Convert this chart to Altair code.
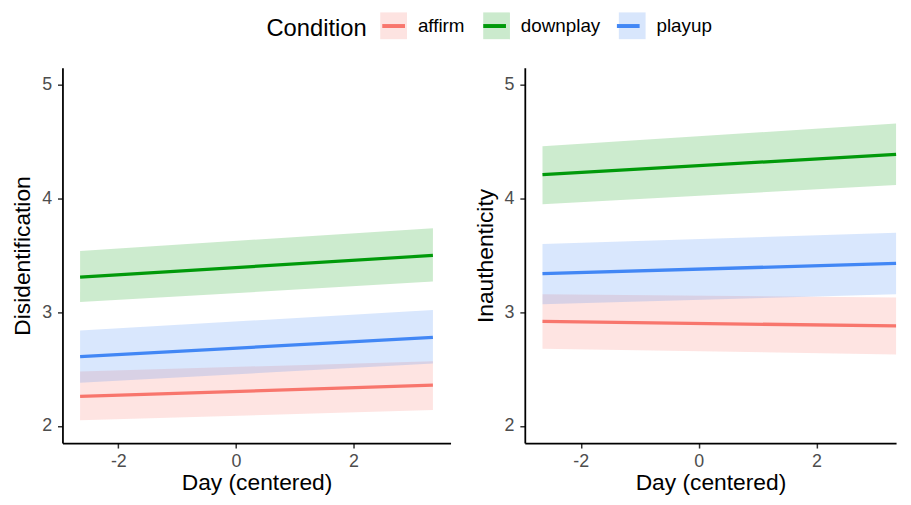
import altair as alt
import pandas as pd

# ---- data ----
days = [-2.65, 3.35]
conditions = ["affirm", "downplay", "playup"]

# Disidentification panel (fit, lower, upper at day start / end)
dis_affirm_fit = [2.26, 2.36]
dis_affirm_lo = [2.05, 2.14]
dis_affirm_hi = [2.48, 2.57]
dis_downplay_fit = [3.31, 3.50]
dis_downplay_lo = [3.09, 3.27]
dis_downplay_hi = [3.54, 3.74]
dis_playup_fit = [2.61, 2.78]
dis_playup_lo = [2.38, 2.55]
dis_playup_hi = [2.84, 3.02]

# Inauthenticity panel
ina_affirm_fit = [2.92, 2.88]
ina_affirm_lo = [2.68, 2.63]
ina_affirm_hi = [3.16, 3.13]
ina_downplay_fit = [4.21, 4.39]
ina_downplay_lo = [3.95, 4.12]
ina_downplay_hi = [4.46, 4.66]
ina_playup_fit = [3.34, 3.43]
ina_playup_lo = [3.07, 3.16]
ina_playup_hi = [3.60, 3.70]

y_ticks = [2, 3, 4, 5]
x_ticks = [-2, 0, 2]
line_colors = ["#F8766D", "#009A0A", "#4287F5"]

FONT = "Liberation Sans"


def build(series):
    rows = []
    for cond, (fit, lo, hi) in zip(conditions, series):
        for d, f, l, h in zip(days, fit, lo, hi):
            rows.append({"Condition": cond, "cond": cond, "day": d, "fit": f, "lo": l, "hi": h})
    return pd.DataFrame(rows)


dis_df = build([
    (dis_affirm_fit, dis_affirm_lo, dis_affirm_hi),
    (dis_downplay_fit, dis_downplay_lo, dis_downplay_hi),
    (dis_playup_fit, dis_playup_lo, dis_playup_hi),
])
ina_df = build([
    (ina_affirm_fit, ina_affirm_lo, ina_affirm_hi),
    (ina_downplay_fit, ina_downplay_lo, ina_downplay_hi),
    (ina_playup_fit, ina_playup_lo, ina_playup_hi),
])

LEG_X = 206
LEG_Y = -58

common_legend = dict(
    title="Condition", orient="none", direction="horizontal",
    legendX=LEG_X, legendY=LEG_Y,
    titleOrient="left", titleAnchor="middle", titleBaseline="middle",
    titleFontSize=24, titleFont=FONT, titleFontWeight="normal",
    titlePadding=11,
    labelFontSize=19, labelFont=FONT,
    symbolSize=729, symbolStrokeWidth=4,
    labelOffset=9, columnPadding=10,
)
fill_legend = alt.Legend(
    titleColor="black", labelColor="black",
    symbolType="square", symbolOpacity=0.2, symbolStrokeColor="transparent",
    **common_legend,
)
stroke_legend = alt.Legend(
    titleColor="transparent", labelColor="transparent",
    symbolType="M-0.85,0H0.85", symbolFillColor="transparent",
    **common_legend,
)


def panel(df, ytitle, xmax, width):
    x = alt.X("day:Q", title="Day (centered)",
              scale=alt.Scale(domain=[-2.95, xmax], nice=False, zero=False),
              axis=alt.Axis(values=x_ticks, labelExpr="replace(datum.label, '\u2212', '-')"))
    y_scale = alt.Scale(domain=[1.85, 5.15], nice=False, zero=False)
    y_axis = alt.Axis(values=y_ticks)
    band = alt.Chart(df).mark_area(opacity=0.2).encode(
        x=x,
        y=alt.Y("lo:Q", title=ytitle, scale=y_scale, axis=y_axis),
        y2="hi:Q",
        fill=alt.Fill("Condition:N", scale=alt.Scale(range=line_colors), legend=fill_legend),
    )
    line = alt.Chart(df).mark_line(strokeWidth=3.3).encode(
        x=x,
        y=alt.Y("fit:Q", title=ytitle, scale=y_scale, axis=y_axis),
        stroke=alt.Stroke("cond:N", scale=alt.Scale(range=line_colors), legend=stroke_legend),
    )
    return alt.layer(band, line).properties(width=width, height=379)


left = panel(dis_df, "Disidentification", 3.65, 392)
right = panel(ina_df, "Inauthenticity", 3.35, 375)

chart = alt.hconcat(left, right, spacing=23).properties(
    padding={"left": 3, "top": 0, "right": 0, "bottom": 0}
).configure_view(stroke=None).configure_axis(
    grid=False,
    domainColor="black", domainWidth=1.8,
    tickColor="#333333", tickWidth=1.5, tickSize=5,
    labelFont=FONT, labelFontSize=18, labelColor="#4D4D4D",
    titleFont=FONT, titleFontSize=23, titleFontWeight="normal", titleColor="black",
).configure_axisX(titlePadding=1, labelPadding=5).configure_axisY(titlePadding=7, labelPadding=6)

chart.save("out.html", embed_options={"renderer": "svg", "actions": False})
